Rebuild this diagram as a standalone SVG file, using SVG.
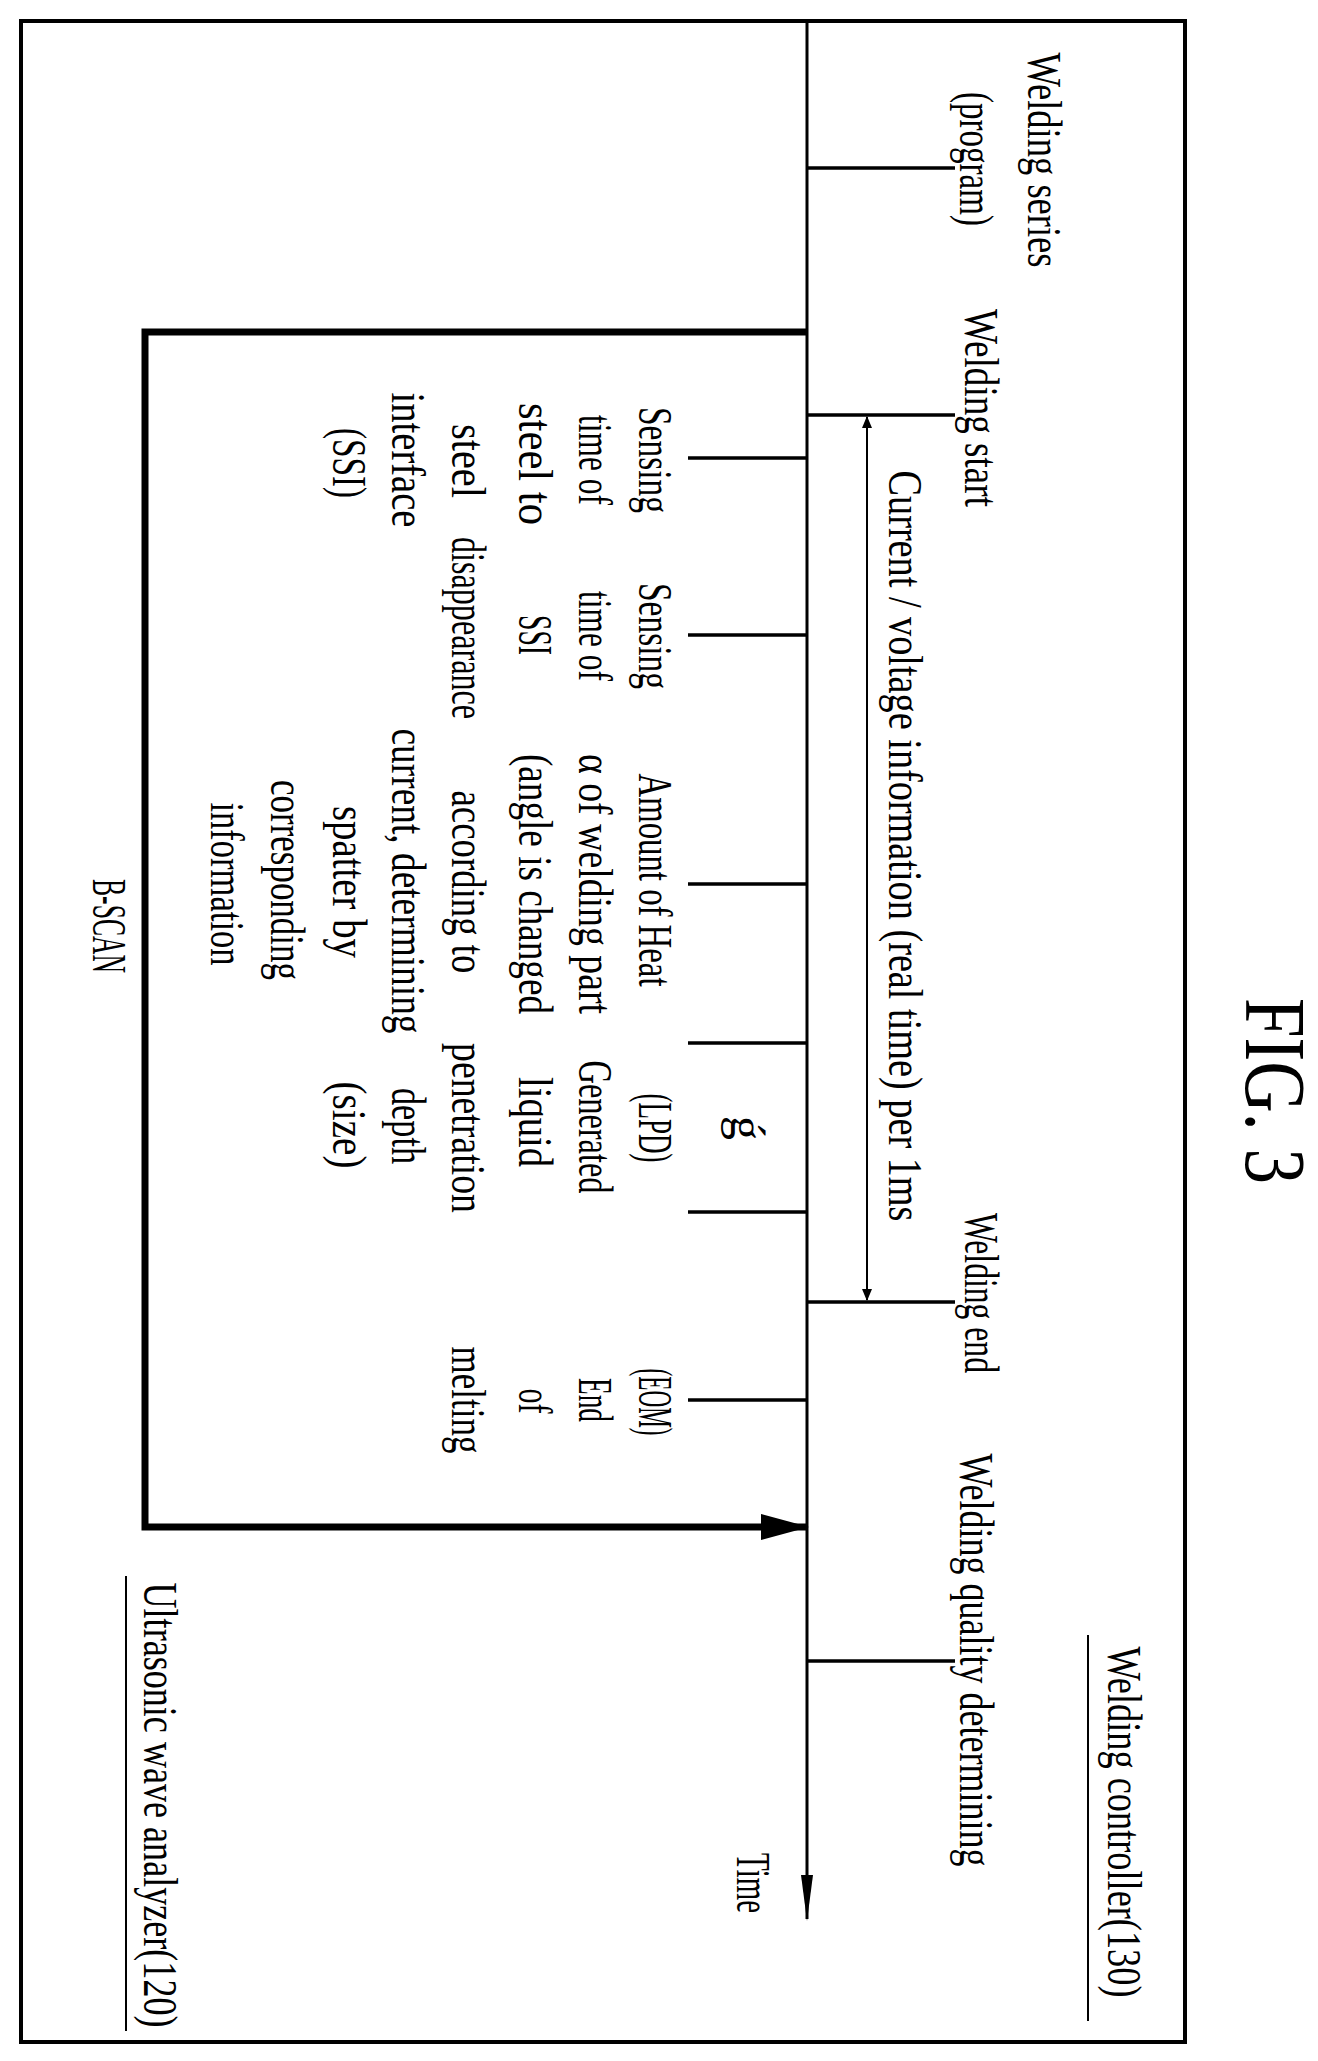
<svg xmlns="http://www.w3.org/2000/svg" width="1318" height="2061" viewBox="0 0 1318 2061">
<style>
.t{font-family:"Liberation Serif",serif;font-size:48px;fill:#000;text-anchor:middle}
.f{font-family:"Liberation Serif",serif;font-size:86px;fill:#000;text-anchor:middle}
.ln{stroke:#000;fill:none}
</style>
<defs>
<marker id="ah" markerWidth="12" markerHeight="10" refX="11" refY="5" orient="auto" markerUnits="userSpaceOnUse"><path d="M0,0 L12,5 L0,10 Z" fill="#000"/></marker>
<marker id="ht" markerWidth="46" markerHeight="12" refX="44" refY="6" orient="auto" markerUnits="userSpaceOnUse"><path d="M0,0 L46,6 L0,12 Z" fill="#000"/></marker>
<marker id="big" markerWidth="48" markerHeight="26" refX="46" refY="13" orient="auto" markerUnits="userSpaceOnUse"><path d="M0,0 L48,13 L0,26 Z" fill="#000"/></marker>
</defs>
<rect x="21" y="21" width="1164" height="2021" class="ln" stroke-width="4"/>
<g id="connectors">
<line x1="807" y1="21" x2="807" y2="1919" class="ln" stroke-width="3" marker-end="url(#ht)"/>
<line x1="867" y1="1000" x2="867" y2="417" class="ln" stroke-width="2" marker-end="url(#ah)"/>
<line x1="867" y1="1000" x2="867" y2="1300" class="ln" stroke-width="2" marker-end="url(#ah)"/>
<path d="M807,332 H145 V1527 H807" class="ln" stroke-width="7" marker-end="url(#big)"/>
<g stroke="#000" stroke-width="3.5">
<line x1="807" y1="168" x2="955" y2="168"/>
<line x1="807" y1="415" x2="955" y2="415"/>
<line x1="807" y1="1302" x2="955" y2="1302"/>
<line x1="807" y1="1661" x2="955" y2="1661"/>
<line x1="688" y1="458" x2="807" y2="458"/>
<line x1="688" y1="635" x2="807" y2="635"/>
<line x1="688" y1="884" x2="807" y2="884"/>
<line x1="688" y1="1043" x2="807" y2="1043"/>
<line x1="688" y1="1212" x2="807" y2="1212"/>
<line x1="688" y1="1400" x2="807" y2="1400"/>
</g>
<line x1="1088" y1="1635" x2="1088" y2="2021" stroke="#000" stroke-width="2"/>
<line x1="126" y1="1576" x2="126" y2="2031" stroke="#000" stroke-width="2"/>
</g>
<g id="title"><text class="f" transform="translate(1246,1091) rotate(90)" textLength="186" lengthAdjust="spacingAndGlyphs">FIG. 3</text></g>
<g id="welding-series">
<text class="t" transform="translate(1028,160) rotate(90)" textLength="215" lengthAdjust="spacingAndGlyphs">Welding series</text>
<text class="t" transform="translate(960,159) rotate(90)" textLength="134" lengthAdjust="spacingAndGlyphs">(program)</text>
</g>
<g id="welding-start"><text class="t" transform="translate(965,408) rotate(90)" textLength="198" lengthAdjust="spacingAndGlyphs">Welding start</text></g>
<g id="current"><text class="t" transform="translate(889,846) rotate(90)" textLength="751" lengthAdjust="spacingAndGlyphs">Current / voltage information (real time) per 1ms</text></g>
<g id="welding-end"><text class="t" transform="translate(965,1293) rotate(90)" textLength="160" lengthAdjust="spacingAndGlyphs">Welding end</text></g>
<g id="quality"><text class="t" transform="translate(960,1660) rotate(90)" textLength="413" lengthAdjust="spacingAndGlyphs">Welding quality determining</text></g>
<g id="time"><text class="t" transform="translate(737,1883) rotate(90)" textLength="60" lengthAdjust="spacingAndGlyphs">Time</text></g>
<g id="controller"><text class="t" transform="translate(1108,1822) rotate(90)" textLength="351" lengthAdjust="spacingAndGlyphs">Welding controller(130)</text></g>
<g id="analyzer"><text class="t" transform="translate(144,1805) rotate(90)" textLength="445" lengthAdjust="spacingAndGlyphs">Ultrasonic wave analyzer(120)</text></g>
<g id="bscan"><text class="t" transform="translate(93,926) rotate(90)" textLength="94" lengthAdjust="spacingAndGlyphs">B-SCAN</text></g>
<g id="ssi-block">
<text class="t" transform="translate(639,460) rotate(90)" textLength="106" lengthAdjust="spacingAndGlyphs">Sensing</text>
<text class="t" transform="translate(579,460) rotate(90)" textLength="90" lengthAdjust="spacingAndGlyphs">time of</text>
<text class="t" transform="translate(519,464) rotate(90)" textLength="122" lengthAdjust="spacingAndGlyphs">steel to</text>
<text class="t" transform="translate(452,461) rotate(90)" textLength="74" lengthAdjust="spacingAndGlyphs">steel</text>
<text class="t" transform="translate(392,460) rotate(90)" textLength="135" lengthAdjust="spacingAndGlyphs">interface</text>
<text class="t" transform="translate(333,463) rotate(90)" textLength="70" lengthAdjust="spacingAndGlyphs">(SSI)</text>
</g>
<g id="ssi-disappear">
<text class="t" transform="translate(639,636) rotate(90)" textLength="106" lengthAdjust="spacingAndGlyphs">Sensing</text>
<text class="t" transform="translate(579,636) rotate(90)" textLength="90" lengthAdjust="spacingAndGlyphs">time of</text>
<text class="t" transform="translate(519,635) rotate(90)" textLength="40" lengthAdjust="spacingAndGlyphs">SSI</text>
<text class="t" transform="translate(452,628) rotate(90)" textLength="182" lengthAdjust="spacingAndGlyphs">disappearance</text>
</g>
<g id="heat">
<text class="t" transform="translate(639,880) rotate(90)" textLength="213" lengthAdjust="spacingAndGlyphs">Amount of Heat</text>
<text class="t" transform="translate(579,884) rotate(90)" textLength="260" lengthAdjust="spacingAndGlyphs">α of welding part</text>
<text class="t" transform="translate(519,884) rotate(90)" textLength="260" lengthAdjust="spacingAndGlyphs">(angle is changed</text>
<text class="t" transform="translate(452,882) rotate(90)" textLength="183" lengthAdjust="spacingAndGlyphs">according to</text>
<text class="t" transform="translate(392,881) rotate(90)" textLength="305" lengthAdjust="spacingAndGlyphs">current, determining</text>
<text class="t" transform="translate(333,882) rotate(90)" textLength="152" lengthAdjust="spacingAndGlyphs">spatter by</text>
<text class="t" transform="translate(271,880) rotate(90)" textLength="200" lengthAdjust="spacingAndGlyphs">corresponding</text>
<text class="t" transform="translate(211,884) rotate(90)" textLength="163" lengthAdjust="spacingAndGlyphs">information</text>
</g>
<g id="g-mark"><text class="t" transform="translate(731,1128) rotate(90)">ǵ</text></g>
<g id="lpd">
<text class="t" transform="translate(639,1128) rotate(90)" textLength="69" lengthAdjust="spacingAndGlyphs">(LPD)</text>
<text class="t" transform="translate(579,1127) rotate(90)" textLength="133" lengthAdjust="spacingAndGlyphs">Generated</text>
<text class="t" transform="translate(519,1122) rotate(90)" textLength="90" lengthAdjust="spacingAndGlyphs">liquid</text>
<text class="t" transform="translate(452,1128) rotate(90)" textLength="170" lengthAdjust="spacingAndGlyphs">penetration</text>
<text class="t" transform="translate(392,1126) rotate(90)" textLength="76" lengthAdjust="spacingAndGlyphs">depth</text>
<text class="t" transform="translate(333,1125) rotate(90)" textLength="87" lengthAdjust="spacingAndGlyphs">(size)</text>
</g>
<g id="eom">
<text class="t" transform="translate(639,1402) rotate(90)" textLength="67" lengthAdjust="spacingAndGlyphs">(EOM)</text>
<text class="t" transform="translate(579,1400) rotate(90)" textLength="44" lengthAdjust="spacingAndGlyphs">End</text>
<text class="t" transform="translate(519,1401) rotate(90)" textLength="25" lengthAdjust="spacingAndGlyphs">of</text>
<text class="t" transform="translate(452,1400) rotate(90)" textLength="107" lengthAdjust="spacingAndGlyphs">melting</text>
</g>
</svg>
